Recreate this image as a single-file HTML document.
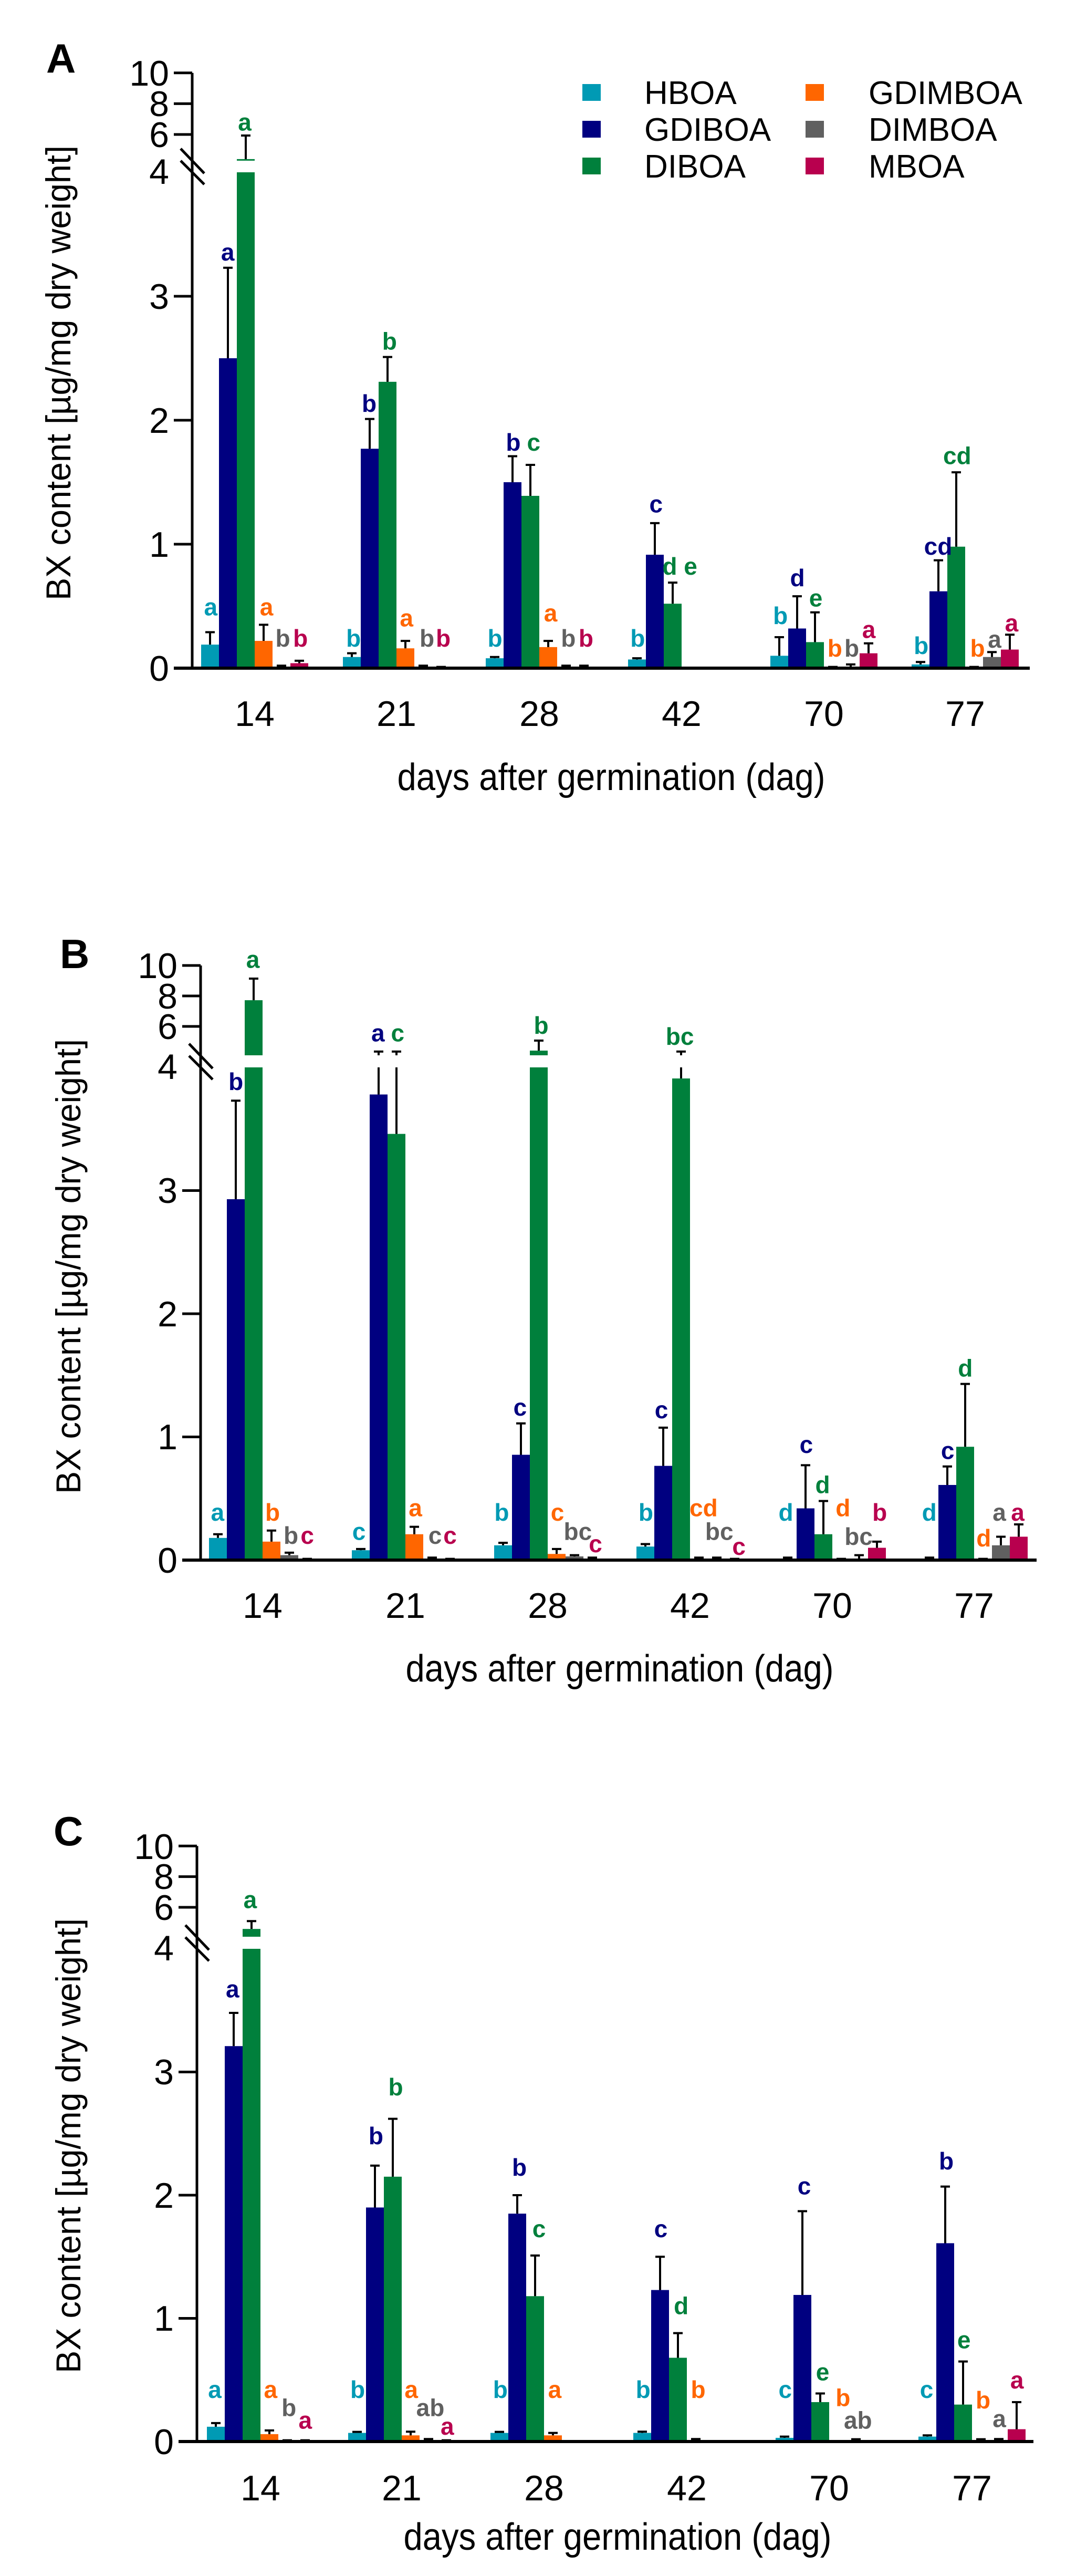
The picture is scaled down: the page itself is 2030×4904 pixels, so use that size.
<!DOCTYPE html>
<html><head><meta charset="utf-8">
<style>
html,body{margin:0;padding:0;background:#fff;}
svg{display:block;}
.tk{font-family:"Liberation Sans Narrow","Liberation Sans",sans-serif;font-size:68px;fill:#000;}
.lg{font-family:"Liberation Sans Narrow","Liberation Sans",sans-serif;font-size:62px;fill:#000;}
.lab text{font-family:"Liberation Sans",sans-serif;font-weight:bold;font-size:46px;text-anchor:middle;}
.pl{font-family:"Liberation Sans",sans-serif;font-weight:bold;font-size:78px;}
.yt{font-family:"Liberation Sans",sans-serif;font-size:66px;}
.xt{font-family:"Liberation Sans Narrow","Liberation Sans",sans-serif;font-size:72px;}
</style></head>
<body>
<svg id="s" width="2030" height="4904" viewBox="0 0 2030 4904" xmlns="http://www.w3.org/2000/svg">
<rect width="2030" height="4904" fill="#fff"/>
<g id="bars"></g>

<text class="pl" x="88" y="138">A</text>
<text class="pl" x="114" y="1843">B</text>
<text class="pl" x="102" y="3513">C</text>

<text class="yt" transform="translate(134,710) rotate(-90)" text-anchor="middle" textLength="866" lengthAdjust="spacingAndGlyphs">BX content [µg/mg dry weight]</text>
<text class="yt" transform="translate(153,2411) rotate(-90)" text-anchor="middle" textLength="866" lengthAdjust="spacingAndGlyphs">BX content [µg/mg dry weight]</text>
<text class="yt" transform="translate(153,4085) rotate(-90)" text-anchor="middle" textLength="866" lengthAdjust="spacingAndGlyphs">BX content [µg/mg dry weight]</text>

<text class="xt" x="1164" y="1504" text-anchor="middle" textLength="815" lengthAdjust="spacingAndGlyphs">days after germination (dag)</text>
<text class="xt" x="1180" y="3201" text-anchor="middle" textLength="815" lengthAdjust="spacingAndGlyphs">days after germination (dag)</text>
<text class="xt" x="1176" y="4854" text-anchor="middle" textLength="815" lengthAdjust="spacingAndGlyphs">days after germination (dag)</text>

<g class="tk" text-anchor="end">
<text x="322" y="1296">0</text><text x="322" y="1060">1</text><text x="322" y="824">2</text><text x="322" y="588">3</text><text x="322" y="350">4</text>
<text x="322" y="280">6</text><text x="322" y="221">8</text><text x="322" y="163">10</text>
<text x="338" y="2994">0</text><text x="338" y="2759">1</text><text x="338" y="2525">2</text><text x="338" y="2290">3</text><text x="338" y="2054">4</text>
<text x="338" y="1978">6</text><text x="338" y="1920">8</text><text x="338" y="1862">10</text>
<text x="331" y="4672">0</text><text x="331" y="4437">1</text><text x="331" y="4203">2</text><text x="331" y="3968">3</text><text x="331" y="3732">4</text>
<text x="331" y="3655">6</text><text x="331" y="3596">8</text><text x="331" y="3539">10</text>
</g>
<g class="tk" text-anchor="middle">
<text x="485" y="1382">14</text><text x="755" y="1382">21</text><text x="1027" y="1382">28</text><text x="1298" y="1382">42</text><text x="1569" y="1382">70</text><text x="1838" y="1382">77</text>
<text x="500" y="3080">14</text><text x="772" y="3080">21</text><text x="1043" y="3080">28</text><text x="1314" y="3080">42</text><text x="1585" y="3080">70</text><text x="1855" y="3080">77</text>
<text x="496" y="4760">14</text><text x="765" y="4760">21</text><text x="1036" y="4760">28</text><text x="1308" y="4760">42</text><text x="1579" y="4760">70</text><text x="1851" y="4760">77</text>
</g>

<rect x="1109" y="160" width="35" height="32" fill="#009AB4"/>
<rect x="1109" y="230" width="35" height="32" fill="#000080"/>
<rect x="1109" y="300" width="35" height="32" fill="#00803C"/>
<rect x="1534" y="160" width="35" height="32" fill="#FF6600"/>
<rect x="1534" y="230" width="35" height="32" fill="#606060"/>
<rect x="1534" y="300" width="35" height="32" fill="#B8004E"/>
<g class="lg">
<text x="1227" y="198">HBOA</text><text x="1227" y="268">GDIBOA</text><text x="1227" y="338">DIBOA</text>
<text x="1654" y="198">GDIMBOA</text><text x="1654" y="268">DIMBOA</text><text x="1654" y="338">MBOA</text>
</g>

<g class="lab" id="labA">
<text x="310" y="1208" fill="#009AB4">a</text><text x="335" y="502" fill="#000080">a</text><text x="360" y="243" fill="#00803C">a</text><text x="392" y="1208" fill="#FF6600">a</text><text x="416" y="1270" fill="#606060">b</text><text x="442" y="1270" fill="#B8004E">b</text>
<text x="520" y="1270" fill="#009AB4">b</text><text x="543" y="803" fill="#000080">b</text><text x="573" y="679" fill="#00803C">b</text><text x="598" y="1230" fill="#FF6600">a</text><text x="628" y="1270" fill="#606060">b</text><text x="652" y="1270" fill="#B8004E">b</text>
<text x="728" y="1270" fill="#009AB4">b</text><text x="755" y="880" fill="#000080">b</text><text x="785" y="880" fill="#00803C">c</text><text x="810" y="1220" fill="#FF6600">a</text><text x="836" y="1270" fill="#606060">b</text><text x="862" y="1270" fill="#B8004E">b</text>
<text x="938" y="1270" fill="#009AB4">b</text><text x="965" y="1003" fill="#000080">c</text><text x="1000" y="1127" fill="#00803C">d e</text>
<text x="1148" y="1225" fill="#009AB4">b</text><text x="1173" y="1150" fill="#000080">d</text><text x="1200" y="1190" fill="#00803C">e</text><text x="1228" y="1290" fill="#FF6600">b</text><text x="1253" y="1290" fill="#606060">b</text><text x="1278" y="1253" fill="#B8004E">a</text>
<text x="1355" y="1285" fill="#009AB4">b</text><text x="1380" y="1087" fill="#000080">cd</text><text x="1408" y="907" fill="#00803C">cd</text><text x="1438" y="1290" fill="#FF6600">b</text><text x="1463" y="1272" fill="#606060">a</text><text x="1488" y="1240" fill="#B8004E">a</text>
</g>
<g class="lab" id="labB">
<text x="320" y="1337" fill="#009AB4">a</text><text x="347" y="480" fill="#000080">b</text><text x="372" y="237" fill="#00803C">a</text><text x="401" y="1337" fill="#FF6600">b</text><text x="428" y="1383" fill="#606060">b</text><text x="452" y="1383" fill="#B8004E">c</text>
<text x="528" y="1375" fill="#009AB4">c</text><text x="556" y="383" fill="#000080">a</text><text x="585" y="383" fill="#00803C">c</text><text x="611" y="1328" fill="#FF6600">a</text><text x="640" y="1383" fill="#606060">c</text><text x="662" y="1383" fill="#B8004E">c</text>
<text x="738" y="1337" fill="#009AB4">b</text><text x="765" y="1128" fill="#000080">c</text><text x="796" y="368" fill="#00803C">b</text><text x="820" y="1337" fill="#FF6600">c</text><text x="850" y="1375" fill="#606060">bc</text><text x="876" y="1400" fill="#B8004E">c</text>
<text x="950" y="1337" fill="#009AB4">b</text><text x="973" y="1133" fill="#000080">c</text><text x="1000" y="390" fill="#00803C">bc</text><text x="1035" y="1328" fill="#FF6600">cd</text><text x="1058" y="1375" fill="#606060">bc</text><text x="1087" y="1405" fill="#B8004E">c</text>
<text x="1156" y="1337" fill="#009AB4">d</text><text x="1186" y="1202" fill="#000080">c</text><text x="1210" y="1282" fill="#00803C">d</text><text x="1240" y="1328" fill="#FF6600">d</text><text x="1263" y="1385" fill="#606060">bc</text><text x="1294" y="1337" fill="#B8004E">b</text>
<text x="1367" y="1337" fill="#009AB4">d</text><text x="1394" y="1214" fill="#000080">c</text><text x="1420" y="1050" fill="#00803C">d</text><text x="1447" y="1388" fill="#FF6600">d</text><text x="1470" y="1337" fill="#606060">a</text><text x="1497" y="1337" fill="#B8004E">a</text>
</g>
<g class="lab" id="labC">
<text x="316" y="1197" fill="#009AB4">a</text><text x="342" y="400" fill="#000080">a</text><text x="368" y="222" fill="#00803C">a</text><text x="398" y="1197" fill="#FF6600">a</text><text x="425" y="1233" fill="#606060">b</text><text x="449" y="1258" fill="#B8004E">a</text>
<text x="526" y="1197" fill="#009AB4">b</text><text x="553" y="692" fill="#000080">b</text><text x="582" y="595" fill="#00803C">b</text><text x="605" y="1197" fill="#FF6600">a</text><text x="633" y="1233" fill="#606060">ab</text><text x="658" y="1270" fill="#B8004E">a</text>
<text x="736" y="1197" fill="#009AB4">b</text><text x="764" y="755" fill="#000080">b</text><text x="793" y="877" fill="#00803C">c</text><text x="816" y="1197" fill="#FF6600">a</text>
<text x="946" y="1197" fill="#009AB4">b</text><text x="972" y="877" fill="#000080">c</text><text x="1002" y="1030" fill="#00803C">d</text><text x="1027" y="1197" fill="#FF6600">b</text>
<text x="1155" y="1197" fill="#009AB4">c</text><text x="1183" y="792" fill="#000080">c</text><text x="1210" y="1162" fill="#00803C">e</text><text x="1240" y="1213" fill="#FF6600">b</text><text x="1262" y="1258" fill="#606060">ab</text>
<text x="1363" y="1197" fill="#009AB4">c</text><text x="1392" y="742" fill="#000080">b</text><text x="1418" y="1098" fill="#00803C">e</text><text x="1446" y="1218" fill="#FF6600">b</text><text x="1470" y="1255" fill="#606060">a</text><text x="1496" y="1178" fill="#B8004E">a</text>
</g>
</svg>
<script>
(function(){
var NS="http://www.w3.org/2000/svg";
var g=document.getElementById('bars');
function el(t,a){var e=document.createElementNS(NS,t);for(var k in a)e.setAttribute(k,a[k]);g.appendChild(e);return e;}
var cols=["#009AB4","#000080","#00803C","#FF6600","#606060","#B8004E"];
var panels=[
 {ax:366,zero:1272,unit:236,y6:256,k:29.3,xend:1961,c:[485,755,1027,1298,1569,1838],
  d:[[[.19,.29],[2.5,3.23],[4.4,5.93],[.22,.35],[.01,.02],[.04,.06]],
     [[.09,.12],[1.77,2.01],[2.31,2.51],[.16,.22],[.01,.02],[0,.01]],
     [[.08,.09],[1.5,1.71],[1.39,1.64],[.17,.22],[.01,.02],[.01,.02]],
     [[.07,.08],[.915,1.17],[.52,.69],[0,0],[0,0],[0,0]],
     [[.1,.25],[.32,.58],[.21,.45],[0,.01],[.01,.03],[.12,.2]],
     [[.03,.05],[.62,.87],[.98,1.58],[0,.01],[.09,.13],[.15,.27]]]},
 {ax:382,zero:2970,unit:234.5,y6:1954,k:29,xend:1974,c:[500,772,1043,1314,1585,1855],
  d:[[[.18,.21],[2.93,3.73],[7.72,9.14],[.15,.24],[.04,.06],[0,.01]],
     [[.08,.09],[3.78,4.35],[3.46,4.35],[.21,.27],[.01,.02],[0,.01]],
     [[.12,.14],[.855,1.11],[4.41,5.07],[.05,.09],[.03,.04],[.01,.02]],
     [[.11,.13],[.765,1.075],[3.91,4.35],[.01,.02],[.01,.02],[0,.01]],
     [[.01,.02],[.42,.77],[.21,.48],[0,.01],[.01,.04],[.1,.15]],
     [[.01,.02],[.61,.76],[.92,1.43],[0,.01],[.12,.19],[.19,.29]]]},
 {ax:375,zero:4648,unit:234.5,y6:3631,k:29.2,xend:1968,c:[496,765,1036,1308,1579,1851],
  d:[[[.12,.15],[3.21,3.48],[4.59,5.1],[.06,.09],[0,.01],[0,.01]],
     [[.07,.07],[1.9,2.24],[2.15,2.62],[.05,.08],[.01,.02],[0,.01]],
     [[.07,.07],[1.85,2.0],[1.18,1.51],[.05,.07],[0,0],[0,0]],
     [[.07,.08],[1.23,1.5],[.68,.88],[.01,.02],[0,0],[0,0]],
     [[.03,.04],[1.19,1.87],[.32,.39],[0,0],[.01,.01],[0,0]],
     [[.04,.05],[1.61,2.07],[.3,.65],[.01,.01],[.01,.02],[.1,.32]]]}
];
panels.forEach(function(p){
 function yl(v){return p.zero-v*p.unit;}
 var y4=yl(4), ybot=y4-23;
 function yu(v){return p.y6-(v-6)*p.k;}
 p.d.forEach(function(grp,gi){
  grp.forEach(function(b,i){
   var v=b[0],e=b[1],x=p.c[gi]-102+34*i,cx=x+17;
   if(v>0){
    if(v<=4){el('rect',{x:x,y:yl(v),width:34,height:Math.max(p.zero-yl(v),1.5),fill:cols[i]});}
    else{el('rect',{x:x,y:y4,width:34,height:p.zero-y4,fill:cols[i]});
         el('rect',{x:x,y:yu(v),width:34,height:Math.max(ybot-yu(v),3),fill:cols[i]});}
   }
   if(e>v){
    var ytop;
    if(e<=4){el('line',{x1:cx,y1:yl(v),x2:cx,y2:yl(e),stroke:'#000','stroke-width':4});ytop=yl(e);}
    else if(v<=4){el('line',{x1:cx,y1:yl(v),x2:cx,y2:y4,stroke:'#000','stroke-width':4});
      el('line',{x1:cx,y1:ybot,x2:cx,y2:yu(e),stroke:'#000','stroke-width':4});ytop=yu(e);}
    else{el('line',{x1:cx,y1:yu(v),x2:cx,y2:yu(e),stroke:'#000','stroke-width':4});ytop=yu(e);}
    el('line',{x1:cx-9,y1:ytop,x2:cx+9,y2:ytop,stroke:'#000','stroke-width':4});
   } else if(e>0||v>0){
    el('line',{x1:cx-9,y1:yl(v)-2,x2:cx+9,y2:yl(v)-2,stroke:'#000','stroke-width':4});
   }
  });
 });
 el('line',{x1:p.ax,y1:yu(10),x2:p.ax,y2:p.zero+3,stroke:'#000','stroke-width':5});
 el('line',{x1:p.ax-35,y1:p.zero,x2:p.xend,y2:p.zero,stroke:'#000','stroke-width':6});
 [1,2,3].forEach(function(v){el('line',{x1:p.ax-35,y1:yl(v),x2:p.ax,y2:yl(v),stroke:'#000','stroke-width':5});});
 [6,8,10].forEach(function(v){el('line',{x1:p.ax-35,y1:yu(v),x2:p.ax,y2:yu(v),stroke:'#000','stroke-width':5});});
 var by=y4-45;
 el('line',{x1:p.ax-22,y1:by,x2:p.ax+23,y2:by+47,stroke:'#000','stroke-width':5});
 el('line',{x1:p.ax-22,y1:by+23,x2:p.ax+23,y2:by+68,stroke:'#000','stroke-width':5});
});
[['labA',0],['labB',1600],['labC',3404]].forEach(function(q){
 var ts=document.getElementById(q[0]).getElementsByTagName('text');
 for(var i=0;i<ts.length;i++){
  var t=ts[i];
  var x=parseFloat(t.getAttribute('x'))*1.2946, y=parseFloat(t.getAttribute('y'))*0.9566+q[1];
  t.setAttribute('x',x.toFixed(1)); t.setAttribute('y',(y+16).toFixed(1));
 }
});
})();
</script>
</body></html>
